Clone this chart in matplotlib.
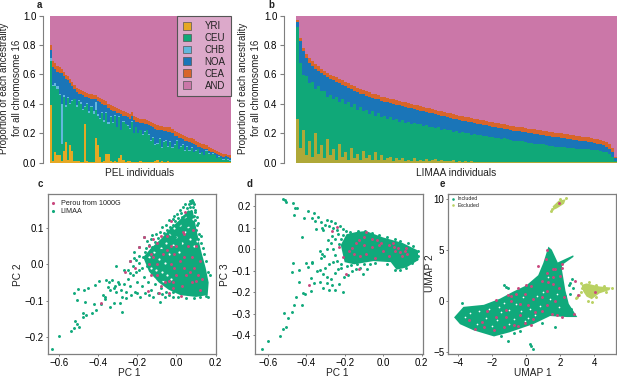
#!/usr/bin/env python3
import numpy as np
import matplotlib
matplotlib.use('Agg')
import matplotlib.pyplot as plt
from matplotlib.patches import Patch

plt.rcParams['font.family'] = ['Liberation Sans', 'DejaVu Sans']
plt.rcParams['text.color'] = '#222222'

W, H = 617, 378

labels = ['YRI', 'CEU', 'CHB', 'NOA', 'CEA', 'AND']
colors = ['#E5A823', '#10A878', '#62B7DD', '#1A75B8', '#D8652A', '#CB77A8']

# panel a, one value per PEL individual
pel_yri = [.39, .01, .07, .055, .055, .01, .08, .14, .02, .12,
           .08, .01, .01, .01, .005, .005, .26, .01, .005, .005,
           .005, .165, .12, .04, .005, .01, .06, .06, .01, .005,
           .01, .005, .03, .05, .02, .005, .01, .01, .005, .005,
           .005, .005, .01, .005, .005, .005, .005, .005, .005, .01,
           .02, .005, .01, .005, .005, .01, .005, .005, .005, .005,
           .005, .005, .005, .005, .005, .005, .005, .005, .005, .005,
           .005, .005, .005, .005, .005, .005, .005, .005, .005, .005,
           .005, .005, .005, .005, .005]
pel_ceu = [.30, .51, .45, .445, .405, .12, .37, .24, .42, .28,
           .34, .42, .37, .41, .395, .355, .12, .39, .335, .375,
           .325, .195, .20, .26, .335, .27, .28, .20, .30, .265,
           .31, .235, .28, .17, .26, .255, .24, .22, .275, .195,
           .235, .195, .21, .185, .205, .215, .185, .145, .165, .11,
           .11, .155, .09, .135, .145, .10, .135, .095, .115, .145,
           .085, .105, .115, .075, .105, .075, .095, .065, .075, .085,
           .055, .065, .045, .075, .055, .045, .055, .045, .025, .035,
           .025, .015, .025, .015, .005]
pel_chb = [.02, .01, .02, .02, .005, .27, .01, .01, .005, .005,
           .005, .005, .01, .005, .01, .005, .005, .005, .01, .005,
           .02, .05, .01, .005, .005, .01, .005, .02, .005, .005,
           .005, .005, .005, .005, .005, .005, .005, .005, .005, .005,
           .005, .005, .005, .005, .005, .005, .005, .005, .005, .005,
           .005, .005, .005, .005, .005, .005, .005, .005, .005, .005,
           .005, .005, .005, .005, .005, .005, .005, .005, .005, .005,
           .005, .005, .005, .005, .005, .005, .005, .005, .005, .005,
           .005, .005, .005, .005, .005]
pel_noa = [.06, .12, .10, .10, .145, .21, .13, .18, .115, .135,
           .095, .065, .09, .045, .055, .095, .065, .04, .09, .05,
           .08, .02, .09, .105, .055, .105, .045, .09, .045, .08,
           .025, .095, .02, .105, .035, .05, .055, .065, .03, .085,
           .035, .07, .045, .075, .05, .035, .06, .095, .065, .105,
           .09, .055, .115, .07, .06, .095, .065, .095, .06, .025,
           .075, .05, .035, .065, .03, .055, .03, .055, .035, .015,
           .04, .025, .04, .005, .015, .02, .005, .01, .025, .005,
           .01, .015, .01, .015, .02]
pel_cea = [.03, .04, .04, .04, .04, .03, .03, .03, .03, .03,
           .03, .03, .03, .03, .03, .03, .03, .03, .03, .03,
           .03, .03, .03, .03, .03, .03, .03, .03, .03, .03,
           .03, .03, .03, .03, .03, .03, .03, .03, .03, .03,
           .03, .03, .03, .03, .03, .03, .03, .03, .03, .03,
           .03, .03, .03, .03, .03, .03, .03, .03, .03, .03,
           .03, .03, .03, .03, .03, .03, .03, .03, .03, .03,
           .03, .03, .03, .03, .03, .025, .025, .02, .02, .02,
           .02, .02, .015, .015, .015]

# panel b, upper edge of each colour band per (grouped) LIMAA individual
limaa_yri_top = [.30, .10, .22, .05, .15, .04, .20, .06, .12, .03,
                 .16, .05, .09, .02, .13, .04, .07, .02, .10, .03,
                 .06, .02, .08, .03, .05, .015, .07, .02, .05, .015,
                 .03, .04, .012, .03, .015, .035, .012, .02, .01, .03,
                 .012, .02, .01, .025, .01, .015, .025, .01, .015, .01,
                 .012, .01, .015, .008, .012, .008, .012, .008, .01, .006,
                 .006, .008, .006, .006, .008, .006, .006, .006, .006, .006,
                 .006, .006, .006, .006, .006, .006, .006, .006, .006, .006,
                 .006, .006, .006, .006, .006, .006, .006, .006, .006, .006,
                 .006, .006, .006, .006, .006, .006, .006, .006, .006, .006,
                 .006, .006, .006, .006, .006, .006, .006]
limaa_ceu_top = [.92, .68, .60, .59, .54, .55, .50, .52, .49, .49,
                 .45, .46, .43, .45, .41, .43, .40, .41, .38, .40,
                 .36, .38, .35, .36, .33, .35, .32, .34, .31, .32,
                 .30, .31, .29, .30, .28, .29, .27, .28, .265, .27,
                 .26, .26, .25, .255, .24, .245, .235, .24, .225, .23,
                 .22, .225, .21, .215, .205, .21, .20, .205, .19, .195,
                 .19, .19, .18, .185, .175, .175, .17, .17, .16, .165,
                 .16, .155, .15, .15, .145, .145, .14, .135, .135, .13,
                 .13, .125, .125, .12, .115, .115, .11, .11, .105, .105,
                 .10, .10, .10, .095, .095, .09, .09, .09, .085, .085,
                 .085, .08, .075, .07, .06, .04, .01]
limaa_noa_top = [.96, .83, .76, .715, .68, .66, .64, .625, .61, .595,
                 .58, .57, .56, .55, .54, .53, .52, .51, .50, .49,
                 .48, .47, .465, .455, .45, .44, .435, .43, .42, .415,
                 .41, .405, .40, .395, .39, .385, .38, .375, .37, .365,
                 .36, .355, .35, .345, .34, .335, .33, .325, .32, .315,
                 .31, .305, .30, .295, .29, .286, .282, .278, .274, .27,
                 .266, .262, .258, .254, .25, .246, .242, .238, .234, .23,
                 .226, .222, .219, .216, .213, .21, .206, .202, .199, .196,
                 .193, .19, .187, .184, .181, .178, .175, .172, .169, .166,
                 .163, .16, .157, .154, .151, .148, .145, .142, .138, .134,
                 .13, .125, .12, .11, .095, .07, .03]
limaa_cea_top = [.97, .85, .78, .74, .71, .69, .67, .655, .64, .625,
                 .61, .60, .59, .58, .57, .56, .55, .54, .53, .52,
                 .51, .50, .495, .485, .48, .47, .465, .46, .45, .445,
                 .44, .435, .43, .425, .42, .415, .41, .405, .40, .395,
                 .39, .385, .38, .375, .37, .365, .36, .355, .35, .345,
                 .34, .335, .33, .325, .32, .316, .312, .308, .304, .30,
                 .296, .292, .288, .284, .28, .276, .272, .268, .264, .26,
                 .256, .252, .249, .246, .243, .24, .236, .232, .229, .226,
                 .223, .22, .217, .214, .211, .208, .205, .202, .199, .196,
                 .193, .19, .187, .184, .181, .178, .175, .172, .168, .164,
                 .16, .155, .15, .14, .125, .10, .04]

# panel c, PC1 / PC2. the dense part is too packed to read single points, so
# it is kept as an outline, the gaps inside it, and the points that can be told apart
c_core_pc1 = [-.17, -.13, -.08, -.03, .02, .06, .085, .105, .125, .15, .165, .16, .10, .02, -.04, -.09, -.14]
c_core_pc2 = [.02, .045, .07, .10, .125, .15, .145, .09, .04, -.01, -.05, -.085, -.09, -.085, -.07, -.05, -.02]
c_gaps = [(-.14, .02), (-.115, .035), (-.13, -.01), (-.105, -.015), (-.08, .045), (-.075, -.02), (-.09, .015),
          (-.055, .06), (-.06, .005), (-.04, .03), (-.035, .085), (-.02, .055), (-.01, .10), (.0, .075),
          (.02, .11), (.03, .06), (.045, .13), (.06, .105), (.07, .07), (.085, .125), (.09, .05),
          (-.03, -.04), (-.07, -.045), (-.05, -.03), (.105, .065), (.045, .09), (.015, .035), (-.115, -.04)]
c_limaa = [(-.635, -.234), (-.60, -.197), (-.54, -.184), (-.523, -.177), (-.50, -.173),
           (-.508, -.164), (-.52, -.156), (-.478, -.145), (-.463, -.141), (-.476, -.134),
           (-.433, -.134), (-.412, -.125), (-.385, -.110), (-.424, -.110), (-.467, -.105),
           (-.509, -.099), (-.523, -.078), (-.502, -.067), (-.474, -.071), (-.45, -.064),
           (-.414, -.057), (-.395, -.046), (-.377, -.085), (-.367, -.09), (-.364, -.097),
           (-.338, -.071), (-.312, -.06), (-.31, -.005), (-.277, -.131), (-.28, -.09),
           (-.26, -.092), (-.29, -.106), (-.32, -.108), (-.34, -.118), (-.36, -.044),
           (-.33, -.042), (-.294, -.055), (-.268, -.016), (-.239, .009), (-.216, .035),
           (-.19, .049), (-.165, .075), (-.35, -.062), (-.345, -.05), (-.32, -.065),
           (-.31, -.075), (-.30, -.05), (-.285, -.07), (-.27, -.055), (-.26, -.075),
           (-.25, -.04), (-.24, -.06), (-.23, -.085), (-.22, -.03), (-.21, -.075),
           (-.20, -.05), (-.19, -.015), (-.185, -.09), (-.175, -.06), (-.165, -.035),
           (-.16, -.08), (-.15, -.005), (-.145, -.05), (-.13, -.07), (-.125, -.025),
           (-.11, -.055), (-.105, .01), (-.095, -.08), (-.09, -.03), (-.08, -.065),
           (-.075, .02), (-.07, -.04), (-.055, -.075), (-.05, -.01), (-.25, -.015),
           (-.235, -.025), (-.22, -.005), (-.205, .012), (-.19, .022), (-.175, -.01),
           (-.17, .02), (-.16, .035), (-.145, .015), (-.13, .03), (-.12, .005),
           (-.10, .025), (-.085, .008), (-.065, .015), (-.05, .025), (-.035, .012),
           (-.205, -.02), (-.215, .018), (-.19, .005), (-.155, .045), (-.14, .055),
           (-.125, .048), (-.11, .04), (-.095, .052), (-.08, .04), (-.065, .05),
           (-.05, .045), (-.03, .04), (-.015, .048), (.0, .058), (.018, .06),
           (.035, .068), (.05, .075), (.072, .078), (-.15, .065), (-.13, .07),
           (-.112, .062), (-.095, .072), (-.075, .066), (-.06, .07), (-.04, .062),
           (-.02, .068), (-.005, .075), (.012, .07), (.03, .082), (.052, .088),
           (.08, .09), (.095, .08), (.11, .07), (.125, .06), (.135, .045),
           (.10, .095), (.115, .085), (.125, .08), (.14, .03), (.15, .01),
           (.16, -.02), (.17, -.03), (.16, -.09), (.145, -.055), (-.125, .082),
           (-.105, .085), (-.085, .09), (-.065, .088), (-.05, .095), (-.03, .087),
           (-.015, .093), (.005, .09), (.022, .098), (.04, .102), (.062, .097),
           (.085, .105), (.105, .108), (-.075, .105), (-.055, .108), (-.035, .103),
           (-.02, .11), (.0, .106), (.015, .112), (.035, .118), (.055, .11),
           (.075, .118), (.095, .122), (.11, .115), (-.04, .122), (-.02, .125),
           (-.005, .12), (.01, .128), (.028, .13), (.05, .125), (.068, .132),
           (.088, .135), (.105, .13), (-.01, .135), (.005, .14), (.022, .142),
           (.04, .135), (.058, .143), (.075, .147), (.097, .146), (.02, .152),
           (.035, .158), (.055, .155), (.068, .16), (.085, .158), (.096, .152),
           (.045, .167), (.062, .168), (.075, .17), (.09, .167), (.07, .176),
           (.08, .178), (.086, .174), (-.2, -.08), (-.14, -.085), (-.12, -.09),
           (-.085, -.105), (-.075, -.082), (-.06, -.09), (-.04, -.085), (-.02, -.09),
           (-.02, -.075), (.01, -.09), (.05, -.092), (.09, -.092), (.12, -.09),
           (.15, -.088)]
c_perou = [(.043, .144), (.087, .094), (-.165, .075), (-.19, .049), (-.239, .009),
           (-.263, -.02), (-.21, -.009), (-.385, -.108), (-.09, -.08), (-.147, -.074),
           (-.038, -.079), (-.017, -.064), (.022, -.087), (.12, -.07), (.1, -.045),
           (.13, -.04), (.11, -.03), (.07, -.02), (.05, -.03), (.09, -.01),
           (-.01, -.01), (-.03, .0), (.02, .01), (.04, .02), (.06, .05),
           (.1, .05), (.035, .09), (.04, .085), (-.03, .12), (-.05, .08),
           (-.08, .08), (-.1, .06), (-.12, .07), (-.14, .05), (-.13, .03),
           (-.12, .02), (-.14, .0), (-.13, -.03), (-.1, -.03), (-.07, .03),
           (-.05, .04), (.0, .05), (-.08, -.06), (-.06, -.05), (-.04, -.045),
           (-.02, -.05), (.03, -.06), (-.03, .05), (.08, .02), (.12, .01),
           (.04, -.01), (-.01, .03), (-.1, .0), (.0, -.03), (.08, -.05)]

# panel d, PC1 / PC3
d_core_pc1 = [-.22, -.19, -.14, -.09, .0, .1, .18, .185, .12, .07, .04, -.05, -.15, -.2]
d_core_pc3 = [.02, .07, .08, .085, .055, .03, -.005, -.05, -.085, -.095, -.06, -.055, -.07, -.06]
d_limaa = [(-.632, -.462), (-.597, -.425), (-.537, -.403), (-.519, -.37), (-.503, -.363),
           (-.517, -.295), (-.497, -.32), (-.476, -.29), (-.464, -.26), (-.42, -.26),
           (-.455, -.223), (-.416, -.205), (-.407, -.209), (-.438, -.152), (-.377, -.192),
           (-.36, -.155), (-.377, -.132), (-.466, -.062), (-.476, -.108), (-.438, -.096),
           (-.403, -.062), (-.372, -.058), (-.368, -.066), (-.39, -.084), (-.519, .233),
           (-.51, .227), (-.505, .222), (-.47, .214), (-.456, .194), (-.447, .192),
           (-.464, .161), (-.424, .059), (-.409, .147), (-.393, .178), (-.358, .17),
           (-.368, .144), (-.356, .133), (-.35, .093), (-.337, .152), (-.325, .127),
           (-.32, .1), (-.31, .088), (-.30, .115), (-.29, .135), (-.28, .11),
           (-.27, .13), (-.26, .10), (-.25, .12), (-.24, .09), (-.225, .11),
           (-.21, .095), (-.195, .085), (-.33, -.01), (-.32, -.02), (-.325, -.04),
           (-.305, -.03), (-.29, .0), (-.285, .045), (-.27, .03), (-.265, .06),
           (-.25, .05), (-.235, .07), (-.26, .0), (-.25, -.025), (-.23, .025),
           (-.24, -.055), (-.26, -.06), (-.28, -.07), (-.3, -.085), (-.33, -.095),
           (-.345, -.10), (-.31, -.115), (-.29, -.13), (-.27, -.14), (-.25, -.11),
           (-.235, -.09), (-.22, -.085), (-.205, -.13), (-.18, -.12), (-.16, -.10),
           (-.14, -.09), (-.12, -.085), (-.105, -.115), (-.085, -.09), (-.25, -.19),
           (-.28, -.19), (-.315, -.18), (-.29, -.155), (-.265, -.165), (-.23, -.16),
           (-.21, -.20), (-.33, -.15), (-.22, -.07), (-.19, -.08), (-.165, -.075),
           (-.135, -.07), (-.1, -.07), (-.07, -.07), (-.04, -.065), (.02, -.07),
           (.06, -.095), (.09, -.095), (.12, -.085), (.15, -.065), (.17, -.045),
           (-.22, .05), (-.21, .065), (-.17, .08), (-.13, .085), (-.095, .085),
           (-.06, .075), (-.02, .065), (.02, .055), (.06, .05), (.09, .04),
           (.13, .03), (.155, .015), (.18, -.01), (.18, -.03)]
d_perou = [(-.265, .085), (-.24, .102), (-.088, .082), (-.383, -.164), (-.192, -.113),
           (-.126, -.093), (-.23, .009), (-.208, -.034), (-.178, -.006), (-.16, .005),
           (-.125, .045), (-.1, .056), (-.06, .05), (-.03, .045), (-.01, .03),
           (.03, .02), (.055, .012), (.08, .005), (.115, -.01), (.125, -.02),
           (-.12, -.03), (-.09, -.02), (-.06, .01), (-.04, -.04), (-.02, .02),
           (.0, -.01), (.03, -.03), (.06, -.01), (.09, -.015), (.12, .005),
           (-.14, .03), (-.15, -.02), (-.1, .02), (.05, .03), (.1, -.03)]

# panel e, UMAP 1 / UMAP 2
e_core_u1 = [-4.25, -3.7, -2.5, -1.55, -.76, .0, .7, 1.0, 1.3, 1.5, 1.85, 2.76, 2.78, 2.1, 2.1, 2.3, 2.5,
             3.0, 2.4, 1.4, .4, -.3, -1.0, -1.9, -3.1, -3.9]
e_core_u2 = [-1.63, -.6, -.4, .2, .9, 1.5, 2.5, 3.7, 5.3, 5.0, 3.75, 4.45, 4.3, 3.5, 3.0, 1.0, -.3,
             -1.6, -1.6, -1.5, -2.3, -2.7, -3.1, -3.5, -2.9, -2.3]
e_gaps = [(-3.3, -1.2), (-2.8, -1.05), (-2.2, -.85), (-1.6, -.6), (-1.0, -.9), (-.7, -1.8), (-.3, -1.0),
          (.2, -.8), (.1, -1.7), (-2.4, -1.7), (-1.7, -1.9), (-2.9, -2.3), (-.6, -.3), (.6, .5),
          (-.2, .4), (1.0, .9), (1.4, .2), (1.9, -.6), (.8, -.5), (-1.3, -.2), (-1.5, -1.1), (-2.0, -2.5),
          (-1.0, -2.3), (1.3, 2.3), (.5, -1.4), (-.1, -2.0), (1.8, .7), (-3.6, -1.6)]
e_included = [(-3.8, -.2), (-1.3, 1.5), (-1.2, 1.3), (-1.1, 1.2), (1.7, -2.6), (-1.1, -3.9),
              (.2, -4.2), (.3, -4.4), (.4, -4.7), (2.7, 2.1), (2.6, 1.7), (2.75, 1.2),
              (2.5, 1.5), (2.55, .7), (-3.5, -.9), (-3, -.6), (-2, -.3), (-.4, -3.0),
              (-.7, -3.2), (-1.5, -3.5), (.9, -2.2), (1.2, 3.4), (2.3, .5), (2.65, -.8)]
e_up_u1 = [1.55, 1.9, 2.32, 2.22, 1.8, 1.6]
e_up_u2 = [9.25, 9.8, 9.95, 9.5, 9.05, 8.9]
e_right_u1 = [3.25, 3.55, 4.3, 4.95, 4.9, 4.3, 3.85, 3.55, 3.35]
e_right_u2 = [1.55, 1.7, 1.4, 1.3, 1.05, .72, .15, .4, .9]
e_excluded = [(3.0, .4), (2.95, .3), (3.1, .55), (3.3, 1.2), (3.2, 1.7), (3.7, 1.8), (4.1, 1.5),
              (4.6, 1.45), (5.05, 1.2), (4.7, .85), (4.1, .4), (3.65, .0), (3.85, -.1),
              (1.45, 8.75), (1.5, 9.0), (2.35, 10.05), (2.0, 10.0), (3.2, .9)]
e_perou = [(1.95, 9.6), (4.05, .9), (3.05, .55), (2.85, 1.95), (2.1, 3.6), (2.1, 3.2),
           (1.2, 5.0), (1.15, 4.1), (1.7, 3.1), (1.55, 3.1), (.7, 3.4), (1.2, 2.7),
           (.9, 1.9), (1.3, 1.8), (1.6, 1.6), (1.6, 2.3), (2.0, 2.4), (.0, 1.5),
           (.3, 1.4), (-.5, 1.2), (-1.1, .6), (-.9, .45), (-.6, .7), (-1.8, .1),
           (-.1, .7), (.4, .2), (.9, .4), (1.2, 1.0), (1.9, 1.2), (2.2, .4),
           (-.9, .0), (-1.2, -.9), (-.4, -.3), (.1, -.4), (.5, -1.1), (.4, -1.8),
           (.9, -1.0), (1.5, -1.3), (1.8, -1.4), (2.1, -1.6), (2.8, -1.3), (-.1, -2.2),
           (-.7, -2.4), (-1.3, -2.6), (-1.8, -1.6), (-2.3, -1.0), (-3.4, -1.9),
           (-3.0, -2.8), (-2.6, -2.1), (-2.5, -2.6), (-1.9, -2.9), (.3, -2.4),
           (-1.2, -1.6), (-.4, -1.4), (1.2, -.4), (1.7, .0), (-.5, -2.5)]

GREEN = '#10A97B'
PINK = '#C9487E'
LIME = '#B9D162'
GREY = '#7F7F7F'
DOT = 4.5

fig = plt.figure(figsize=(W / 100, H / 100), dpi=100)


def px_axes(x0, y0, x1, y1):
    return fig.add_axes([x0 / W, 1 - y1 / H, (x1 - x0) / W, (y1 - y0) / H])


def px_text(x, y, s, **kw):
    kw.setdefault('ha', 'center')
    kw.setdefault('va', 'center')
    kw.setdefault('fontsize', 7.3)
    fig.text(x / W, 1 - y / H, s, **kw)


def dots(ax, points, color, size=DOT):
    pts = np.array(points)
    ax.scatter(pts[:, 0], pts[:, 1], s=size, color=color, linewidths=0)


def style_bar_axes(ax, n, offset_px):
    ax.set_xlim(-.5, n - .5)
    ax.set_ylim(0, 1)
    for side in ['top', 'right', 'bottom']:
        ax.spines[side].set_visible(False)
    ax.spines['left'].set_position(('outward', offset_px * .72))
    ax.spines['left'].set_color(GREY)
    ax.spines['left'].set_linewidth(.8)
    ax.set_xticks([])
    ax.set_yticks([0, .2, .4, .6, .8, 1.0], ['0.0', '0.2', '0.4', '0.6', '0.8', '1.0'])
    ax.tick_params(axis='y', length=3.2, width=.8, color=GREY, labelsize=7, pad=1.5)


def style_box_axes(ax, xlim, ylim, xticks, yticks):
    ax.set_xlim(*xlim)
    ax.set_ylim(*ylim)
    ax.set_xticks(xticks)
    ax.set_yticks(yticks)
    for sp in ax.spines.values():
        sp.set_color(GREY)
        sp.set_linewidth(.9)
    ax.tick_params(length=1.5, width=.7, color=GREY, labelsize=7, pad=1.5)


# a
ax = px_axes(50, 15.7, 231, 162.7)
xs = np.arange(len(pel_yri))
bottom = np.zeros(len(xs))
for vals, col in zip([pel_yri, pel_ceu, pel_chb, pel_noa, pel_cea], colors):
    ax.bar(xs, vals, 1.0, bottom=bottom, color=col, linewidth=0)
    bottom = bottom + np.array(vals)
ax.bar(xs, 1 - bottom, 1.0, bottom=bottom, color=colors[5], linewidth=0)
style_bar_axes(ax, len(xs), 7)
handles = [Patch(facecolor=c, edgecolor='#555555', linewidth=.5, label=l) for c, l in zip(colors, labels)]
leg = ax.legend(handles=handles, loc='upper right', bbox_to_anchor=(1.0, 1.0), borderaxespad=0,
                fontsize=7, fancybox=False, framealpha=1, facecolor='#DCA9CA', edgecolor='#555555',
                handlelength=.85, handleheight=.85, labelspacing=.195, handletextpad=1.4,
                borderpad=.55)
leg.get_frame().set_linewidth(.8)
px_text(39, 5, 'a', fontweight='bold', fontsize=7)
px_text(140, 173, 'PEL individuals')
px_text(4.5, 88, 'Proportion of each ancestrality', rotation=90, fontsize=7)
px_text(17, 88, 'for all chromosome 16', rotation=90, fontsize=7)

# b, CEU runs from zero so the thin YRI bars mix with it as in the picture
ax = px_axes(296, 15.7, 617, 162.7)
xs = np.arange(len(limaa_cea_top))
ax.bar(xs, limaa_ceu_top, 1.0, color=colors[1], linewidth=0)
ax.bar(xs, limaa_yri_top, 1.0, color=colors[0], alpha=.75, linewidth=0)
bottom = np.array(limaa_ceu_top)
for top, col in zip([limaa_noa_top, limaa_cea_top], [colors[3], colors[4]]):
    ax.bar(xs, np.array(top) - bottom, 1.0, bottom=bottom, color=col, linewidth=0)
    bottom = np.array(top)
ax.bar(xs, 1 - bottom, 1.0, bottom=bottom, color=colors[5], linewidth=0)
style_bar_axes(ax, len(xs), 12)
px_text(271, 5, 'b', fontweight='bold', fontsize=7)
px_text(456, 173, 'LIMAA individuals')
px_text(243, 88, 'Proportion of each ancestrality', rotation=90, fontsize=7)
px_text(256, 88, 'for all chromosome 16', rotation=90, fontsize=7)

# c
ax = px_axes(48, 194, 215.5, 354)
ax.fill(c_core_pc1, c_core_pc2, color=GREEN, linewidth=0)
dots(ax, c_gaps, 'white', 2.5)
dots(ax, c_limaa, GREEN)
dots(ax, c_perou, PINK)
style_box_axes(ax, (-.657, .2), (-.248, .195), [-.6, -.4, -.2, 0, .2], [-.2, -.1, 0, .1])
ax.scatter([.027], [.943], s=5, color=PINK, linewidths=0, transform=ax.transAxes, clip_on=False)
ax.scatter([.027], [.891], s=5, color=GREEN, linewidths=0, transform=ax.transAxes, clip_on=False)
ax.text(.075, .943, 'Perou from 1000G', transform=ax.transAxes, fontsize=5.2, va='center')
ax.text(.075, .891, 'LIMAA', transform=ax.transAxes, fontsize=5.2, va='center')
px_text(40, 184, 'c', fontweight='bold', fontsize=7)
px_text(129, 373, 'PC 1')
px_text(18, 275, 'PC 2', rotation=90)

# d
ax = px_axes(255, 194, 422.5, 354)
ax.fill(d_core_pc1, d_core_pc3, color=GREEN, linewidth=0)
dots(ax, d_limaa, GREEN)
dots(ax, d_perou, PINK)
style_box_axes(ax, (-.666, .205), (-.487, .257), [-.6, -.4, -.2, 0, .2],
               [-.4, -.3, -.2, -.1, 0, .1, .2])
px_text(250, 184, 'd', fontweight='bold', fontsize=7)
px_text(337, 373, 'PC 1')
px_text(225, 275, 'PC 3', rotation=90)

# e
ax = px_axes(448.3, 194, 615.7, 354)
ax.fill(e_core_u1, e_core_u2, color=GREEN, linewidth=0)
ax.fill(e_up_u1, e_up_u2, color=LIME, linewidth=0)
ax.fill(e_right_u1, e_right_u2, color=LIME, linewidth=0)
dots(ax, e_gaps, 'white', 1.5)
dots(ax, e_included, GREEN)
dots(ax, e_excluded, LIME)
dots(ax, e_perou, PINK)
style_box_axes(ax, (-4.59, 5.26), (-5.22, 10.46), [-4, -2, 0, 2, 4], [-5, 0, 5, 10])
ax.scatter([.028], [.97], s=3.5, color=GREEN, linewidths=0, transform=ax.transAxes, clip_on=False)
ax.scatter([.028], [.93], s=3.5, color=LIME, linewidths=0, transform=ax.transAxes, clip_on=False)
ax.text(.055, .97, 'Included', transform=ax.transAxes, fontsize=3.8, va='center')
ax.text(.055, .93, 'Excluded', transform=ax.transAxes, fontsize=3.8, va='center')
px_text(442, 184, 'e', fontweight='bold', fontsize=7)
px_text(533, 373, 'UMAP 1')
px_text(430, 273, 'UMAP 2', rotation=90)

fig.savefig('out.png', dpi=100)
